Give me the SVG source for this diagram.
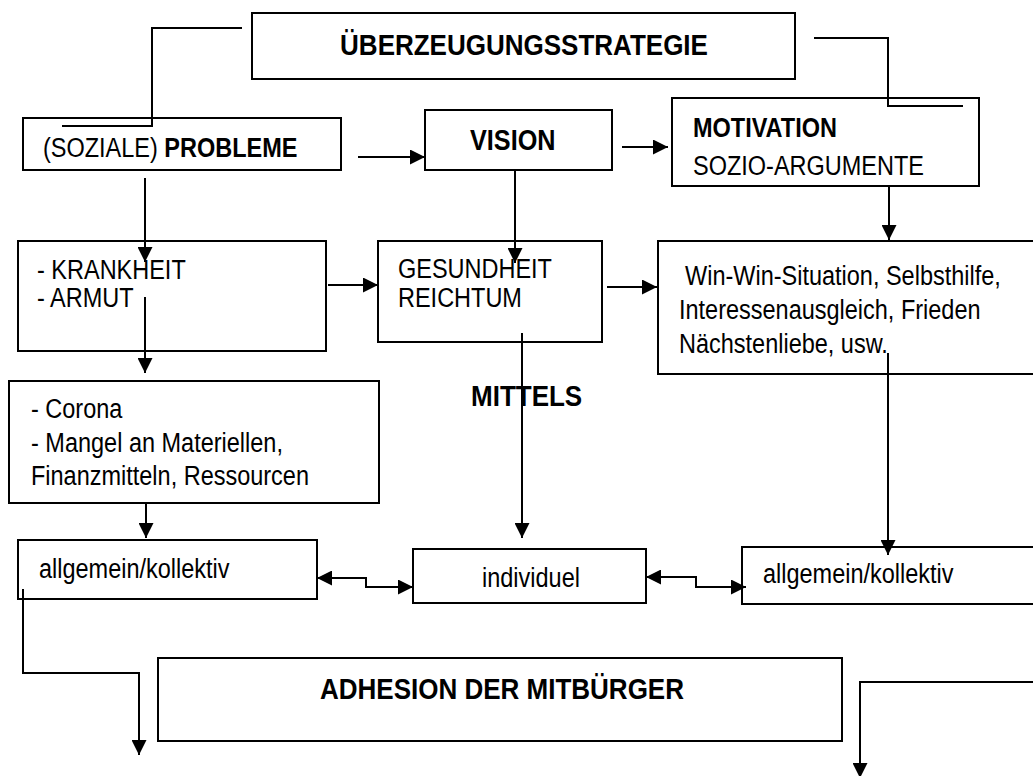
<svg xmlns="http://www.w3.org/2000/svg" width="1033" height="776" viewBox="0 0 1033 776">
<defs>
<style>
.box{fill:#fff;stroke:#000;stroke-width:2}
.t{font-family:"Liberation Sans",Arial,sans-serif;font-size:27px;fill:#000}
.b{font-weight:bold}
.h{font-family:"Liberation Sans",Arial,sans-serif;font-size:30px;font-weight:bold;fill:#000}
.c{fill:none;stroke:#000;stroke-width:2}
.a{marker-end:url(#ah)}
.d{marker-end:url(#ah);marker-start:url(#ah)}
</style>
<marker id="ah" markerUnits="userSpaceOnUse" markerWidth="16" markerHeight="15" refX="15" refY="7.5" orient="auto-start-reverse">
<path d="M0,0 L15,7.5 L0,15 z" fill="#000"/>
</marker>
</defs>
<rect width="1033" height="776" fill="#fff"/>
<g id="title"><rect class="box" x="252" y="13" width="543" height="66"/><text class="h" transform="translate(524,55) scale(0.867,1)" text-anchor="middle">ÜBERZEUGUNGSSTRATEGIE</text></g>
<g id="probleme"><rect class="box" x="23" y="118" width="318" height="52"/><text class="t" transform="translate(43,157) scale(0.87,1)">(SOZIALE) <tspan class="b">PROBLEME</tspan></text></g>
<g id="vision"><rect class="box" x="425" y="110" width="187" height="60"/><text class="t b" transform="translate(470,150) scale(0.87,1)" style="font-size:29px">VISION</text></g>
<g id="motivation"><rect class="box" x="672" y="98" width="307" height="88"/><text class="t b" transform="translate(693,137) scale(0.87,1)">MOTIVATION</text><text class="t" transform="translate(693,175) scale(0.87,1)">SOZIO-ARGUMENTE</text></g>
<g id="krankheit"><rect class="box" x="18" y="241" width="308" height="110"/><text class="t" transform="translate(37,279) scale(0.87,1)">- KRANKHEIT</text><text class="t" transform="translate(37,307) scale(0.87,1)">- ARMUT</text></g>
<g id="gesundheit"><rect class="box" x="378" y="241" width="224" height="101"/><text class="t" transform="translate(398,278) scale(0.87,1)">GESUNDHEIT</text><text class="t" transform="translate(398,307) scale(0.87,1)">REICHTUM</text></g>
<g id="winwin"><rect class="box" x="658" y="241" width="390" height="133"/><text class="t" transform="translate(685,285) scale(0.87,1)">Win-Win-Situation, Selbsthilfe,</text><text class="t" transform="translate(679,319) scale(0.87,1)">Interessenausgleich, Frieden</text><text class="t" transform="translate(679,353) scale(0.87,1)">Nächstenliebe, usw.</text></g>
<g id="mittels"><text class="h" transform="translate(471,406) scale(0.867,1)">MITTELS</text></g>
<g id="corona"><rect class="box" x="9" y="381" width="370" height="122"/><text class="t" transform="translate(31,418) scale(0.87,1)">- Corona</text><text class="t" transform="translate(31,452) scale(0.87,1)">- Mangel an Materiellen,</text><text class="t" transform="translate(31,485) scale(0.87,1)">Finanzmitteln, Ressourcen</text></g>
<g id="allgemein1"><rect class="box" x="18" y="540" width="299" height="59"/><text class="t" transform="translate(39,578) scale(0.87,1)">allgemein/kollektiv</text></g>
<g id="individuel"><rect class="box" x="413" y="549" width="233" height="54"/><text class="t" transform="translate(482,587) scale(0.87,1)">individuel</text></g>
<g id="allgemein2"><rect class="box" x="742" y="547" width="310" height="57"/><text class="t" transform="translate(763,583) scale(0.87,1)">allgemein/kollektiv</text></g>
<g id="adhesion"><rect class="box" x="158" y="658" width="684" height="83"/><text class="h" transform="translate(320,699) scale(0.867,1)">ADHESION DER MITBÜRGER</text></g>
<g id="connectors">
<polyline class="c" points="242,28 152,28 152,126 62,126"/>
<polyline class="c" points="814,38 888,38 888,106 963,106"/>
<line class="c a" x1="358" y1="157" x2="425" y2="157"/>
<line class="c a" x1="622" y1="147" x2="668" y2="147"/>
<line class="c a" x1="145" y1="178" x2="145" y2="262"/>
<line class="c a" x1="515" y1="170" x2="515" y2="263"/>
<line class="c a" x1="889" y1="186" x2="889" y2="240"/>
<line class="c a" x1="328" y1="285" x2="378" y2="285"/>
<line class="c a" x1="607" y1="287" x2="657" y2="287"/>
<line class="c a" x1="145" y1="297" x2="145" y2="373"/>
<line class="c a" x1="522" y1="333" x2="522" y2="538"/>
<line class="c a" x1="888" y1="353" x2="888" y2="555"/>
<line class="c a" x1="146" y1="503" x2="146" y2="538"/>
<polyline class="c d" points="317,578 366,578 366,587 413,587"/>
<polyline class="c d" points="646,577 696,577 696,587 746,587"/>
<polyline class="c a" points="23,589 23,673 139,673 139,755"/>
<polyline class="c a" points="1040,682 860,682 860,778"/>
</g>
</svg>
